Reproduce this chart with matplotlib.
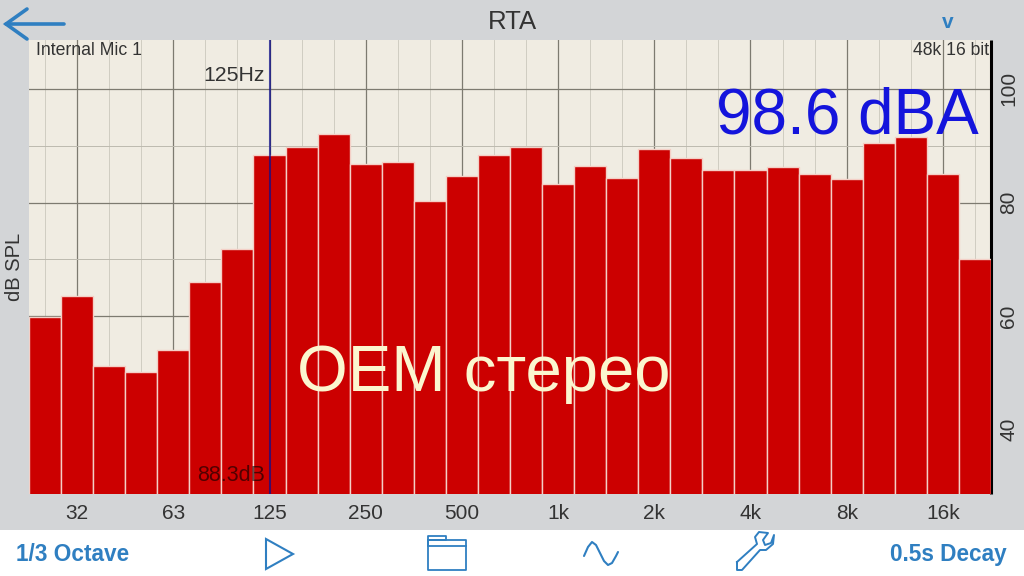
import matplotlib
matplotlib.use("Agg")
import matplotlib.pyplot as plt
from matplotlib.patches import Polygon, Rectangle

plt.rcParams["font.family"] = ["Liberation Sans", "DejaVu Sans"]

# 1/3 octave bands, 25 Hz to 20 kHz
bands = ["25", "32", "40", "50", "63", "80", "100", "125", "160", "200",
         "250", "315", "400", "500", "630", "800", "1k", "1.25k", "1.6k", "2k",
         "2.5k", "3.15k", "4k", "5k", "6.3k", "8k", "10k", "12.5k", "16k", "20k"]
levels = [59.8, 63.5, 51.2, 50.1, 54.0, 66.0, 71.8, 88.4, 89.7, 92.0,
          86.7, 87.1, 80.2, 84.6, 88.3, 89.7, 83.2, 86.4, 84.3, 89.4,
          87.8, 85.7, 85.7, 86.2, 85.1, 84.1, 90.4, 91.5, 85.1, 70.0]
tick_labels = ["32", "63", "125", "250", "500", "1k", "2k", "4k", "8k", "16k"]
db_ticks = [40, 60, 80, 100]
db_minor = [50, 70, 90]

W, H = 1024, 576
GRAY = "#d3d5d7"
BLUE = "#2f7fc1"

fig = plt.figure(figsize=(W / 100, H / 100), dpi=100, facecolor="white")

# chrome layer in pixel coords
bg = fig.add_axes([0, 0, 1, 1])
bg.set_xlim(0, W)
bg.set_ylim(H, 0)
bg.axis("off")
bg.add_patch(Rectangle((0, 0), W, 530, color=GRAY, lw=0))

left, right, top, bottom = 29, 991, 40, 494
ax = fig.add_axes([left / W, 1 - bottom / H, (right - left) / W, (bottom - top) / H])
ax.set_facecolor("#f0ece2")

x = list(range(len(bands)))
ax.set_xlim(-0.5, len(bands) - 0.5)
ax.set_ylim(28.7, 108.6)

ax.bar(x, levels, width=1.0, bottom=0, color="#cc0000", edgecolor="#f4cfc6", lw=1.0, zorder=3)

major_x = [bands.index(b) for b in tick_labels]
for i in x:
    if i in major_x:
        ax.axvline(i, color="#7d7a70", lw=0.9, zorder=1)
    else:
        ax.axvline(i, color="#d0cdc2", lw=0.7, zorder=1)
for d in db_ticks:
    ax.axhline(d, color="#7d7a70", lw=0.9, zorder=1)
for d in db_minor:
    ax.axhline(d, color="#bdbaaf", lw=0.7, zorder=1)

for s in ["left", "top", "bottom"]:
    ax.spines[s].set_visible(False)
ax.spines["right"].set_linewidth(2.2)
ax.spines["right"].set_color("black")
ax.spines["right"].set_capstyle("butt")

ax.set_xticks(major_x)
ax.set_xticklabels(tick_labels, fontsize=15, color="#333333")
ax.tick_params(axis="x", length=0, pad=7)
ax.yaxis.tick_right()
ax.set_yticks(db_ticks)
ax.set_yticklabels(db_ticks, rotation=90, va="center", fontsize=15, color="#333333")
ax.tick_params(axis="y", length=0, pad=6)

cursor = bands.index("125")
ax.axvline(cursor, color="#10108c", lw=1.5, alpha=0.75, zorder=4)

# texts inside the plot
ax.text(cursor - 0.14, 102.4, "125Hz", ha="right", va="center", fontsize=15.3, color="#333333", zorder=5)
ax.text(cursor - 0.14, 31.9, "88.3dB", ha="right", va="center", fontsize=15.5, color="black", alpha=0.6, zorder=5)
ax.text(0.007, 0.995, "Internal Mic 1", transform=ax.transAxes, ha="left", va="top",
        fontsize=12.7, color="#333333", zorder=5)
ax.text(0.998, 0.995, "48k 16 bit", transform=ax.transAxes, ha="right", va="top",
        fontsize=12.7, color="#333333", zorder=5)

# overlays
bg2 = fig.add_axes([0, 0, 1, 1])
bg2.set_xlim(0, W)
bg2.set_ylim(H, 0)
bg2.axis("off")
bg2.patch.set_alpha(0)

bg2.text(847, 134, "98.6 dBA", ha="center", va="baseline", fontsize=46, color="#1414dc")
bg2.text(484, 391, "OEM стерео", ha="center", va="baseline", fontsize=47, color="#fbf6cf")
bg2.text(512, 29, "RTA", ha="center", va="baseline", fontsize=18.5, color="#333333")
bg2.text(948, 28, "v", ha="center", va="baseline", fontsize=15, color=BLUE, fontweight="bold")
bg2.text(14, 267, "dB SPL", rotation=90, ha="center", va="center", fontsize=14.5, color="#333333")

# back arrow
bg2.plot([6, 64], [24, 24], color=BLUE, lw=2.6, solid_capstyle="round")
bg2.plot([27, 6, 27], [9, 24, 39], color=BLUE, lw=2.6, solid_capstyle="round", solid_joinstyle="miter")

# toolbar
bg2.text(16, 561, "1/3 Octave", ha="left", va="baseline", fontsize=16.3, color=BLUE, fontweight="bold")
bg2.text(1007, 561, "0.5s Decay", ha="right", va="baseline", fontsize=16.3, color=BLUE, fontweight="bold")
bg2.add_patch(Polygon([(266, 539), (266, 569), (293, 554)], closed=True, fill=False, ec=BLUE, lw=1.5))
bg2.plot([428, 428, 466, 466, 428], [540, 570, 570, 540, 540], color=BLUE, lw=1.3)
bg2.plot([428, 428, 446, 446, 428], [545, 536, 536, 540, 540], color=BLUE, lw=1.3)
bg2.plot([428, 466], [546, 546], color=BLUE, lw=1.3)

# sine icon
wave_x = [584, 588, 592, 596, 600, 604, 608, 612, 616, 618]
wave_y = [556, 547, 542, 545, 553, 561, 565, 563, 556, 552]
bg2.plot(wave_x, wave_y, color=BLUE, lw=1.5, solid_capstyle="round")

# wrench icon
wrench_x = [737, 757, 755, 759, 768, 763, 765, 771, 774, 773, 766, 760, 742, 737, 737]
wrench_y = [562, 544, 537, 532, 533, 540, 545, 543, 535, 544, 550, 550, 570, 570, 562]
bg2.plot(wrench_x, wrench_y, color=BLUE, lw=1.4, solid_joinstyle="round")

fig.savefig("out.png", dpi=100, facecolor=fig.get_facecolor())
